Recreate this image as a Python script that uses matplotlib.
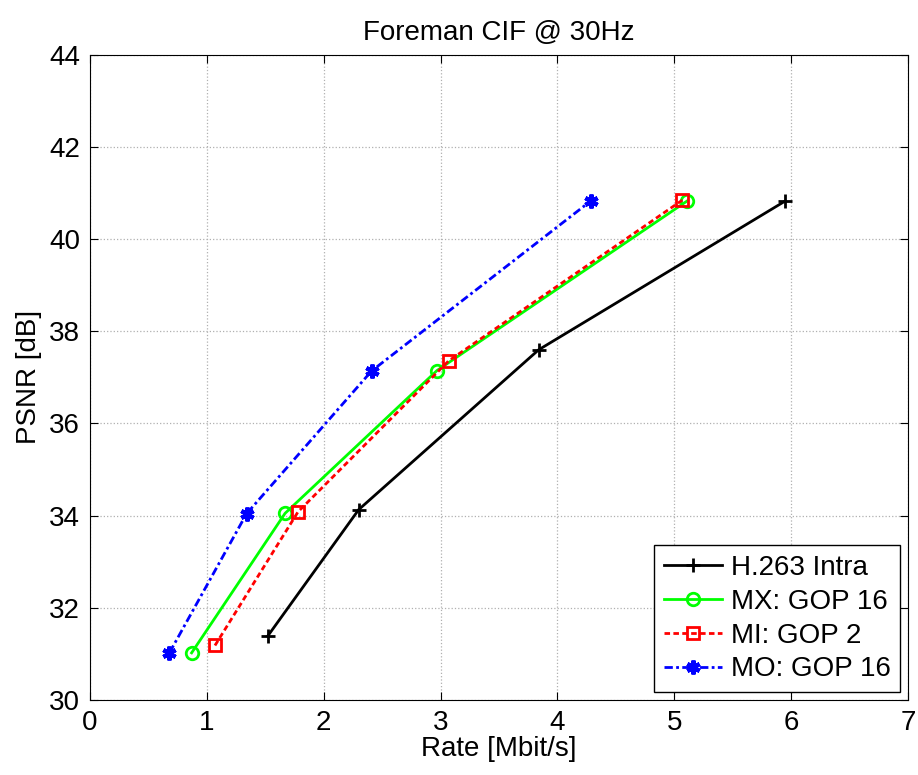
import matplotlib
matplotlib.use("Agg")
import matplotlib.pyplot as plt

plt.rcParams['font.family'] = ['Liberation Sans', 'DejaVu Sans']

# datos
rate_h263 = [1.52, 2.30, 3.84, 5.95]
psnr_h263 = [31.38, 34.13, 37.60, 40.83]

rate_mx = [0.87, 1.67, 2.97, 5.11]
psnr_mx = [31.02, 34.05, 37.15, 40.83]

rate_mi = [1.07, 1.78, 3.07, 5.07]
psnr_mi = [31.18, 34.08, 37.36, 40.85]

rate_mo = [0.68, 1.34, 2.41, 4.29]
psnr_mo = [31.02, 34.04, 37.14, 40.84]

x_ticks = [0, 1, 2, 3, 4, 5, 6, 7]
y_ticks = [30, 32, 34, 36, 38, 40, 42, 44]

fig = plt.figure(figsize=(9.18, 7.75), dpi=100)
ax = fig.add_axes([0.098, 0.097, 0.891, 0.832])

ax.plot(rate_h263, psnr_h263, color="black", lw=2, marker="+", ms=10, mew=2,
        label="H.263 Intra")
ax.plot(rate_mx, psnr_mx, color="#00ff00", lw=2, marker="o", ms=9, mew=2,
        mfc="none", label="MX: GOP 16")
ax.plot(rate_mi, psnr_mi, color="red", lw=2, ls=(0, (2, 1.2)), marker="s", ms=9,
        mew=2, mfc="none", label="MI: GOP 2")
ax.plot(rate_mo, psnr_mo, color="blue", lw=2, ls=(0, (3, 1.2, 1, 1.2)),
        marker=(6, 2, 0), ms=10, mew=3, label="MO: GOP 16")

ax.set_xlim(0, 7)
ax.set_ylim(30, 44)
ax.set_xticks(x_ticks)
ax.set_yticks(y_ticks)
ax.tick_params(labelsize=20, direction="in", length=6, top=True, right=True, pad=7)
ax.grid(True, ls=":", color="#b0b0b0", lw=0.9)

ax.set_title("Foreman CIF @ 30Hz", fontsize=20, pad=11)
ax.set_xlabel("Rate [Mbit/s]", fontsize=20, labelpad=0)
ax.set_ylabel("PSNR [dB]", fontsize=20, labelpad=5)

leg = ax.legend(loc="lower right", fontsize=20, fancybox=False, framealpha=1,
                edgecolor="black", handlelength=2.1, handletextpad=0.3,
                borderaxespad=0.28, borderpad=0.35, labelspacing=0.28)
leg.get_frame().set_linewidth(1)

fig.savefig("out.png", dpi=100)
